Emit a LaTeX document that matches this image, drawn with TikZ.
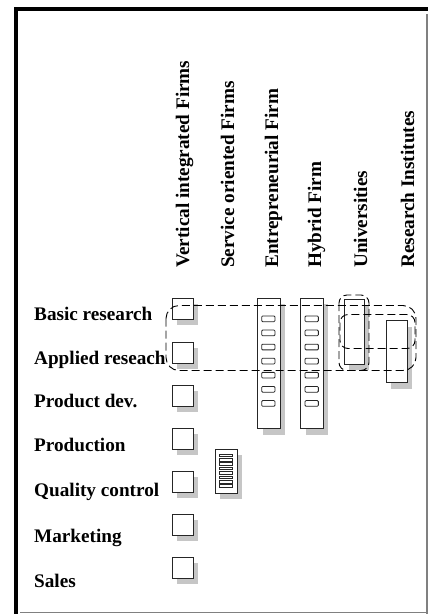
\documentclass[tikz,border=0pt]{standalone}
\usepackage{fontspec}
\setmainfont{Liberation Serif}
\usetikzlibrary{shadows}
\begin{document}
\begin{tikzpicture}[x=1pt,y=-1pt,
  lbl/.style={font=\fontsize{19.2}{20}\selectfont\bfseries, inner sep=0pt, anchor=base west},
  collbl/.style={lbl, rotate=90},
  shad/.style={drop shadow={shadow xshift=5pt, shadow yshift=-6pt, fill=gray!45, opacity=1}},
  sbox/.style={draw=black!85, line width=0.9pt, fill=white, inner sep=0pt, minimum width=21pt, minimum height=21pt, shad},
  colbox/.style={draw=black!85, line width=0.9pt, fill=white, inner sep=0pt, shad},
  cell/.style={draw=black!85, line width=0.8pt, fill=white, inner sep=0pt, rounded corners=1pt, minimum width=13.3pt, minimum height=5.7pt},
  tinycell/.style={draw=black!85, line width=0.7pt, fill=white, inner sep=0pt, minimum width=13pt, minimum height=2.6pt},
  dashbox/.style={draw=black, line width=0.9pt, dash pattern=on 8pt off 4pt}
]
\useasboundingbox (0,0) rectangle (428,614);
% frame
\fill[black] (14,7) rectangle (18,614);
\fill[black] (14,7) rectangle (428,11);
\draw[gray, line width=1.3pt] (427,14) -- (427,614);
\draw[gray, line width=1.3pt] (20,612.5) -- (428,612.5);

% row labels
\node[lbl] (rBasic) at (34,320) {Basic research};
\node[lbl] (rApplied) at (34,364) {Applied reseach};
\node[lbl] (rProd) at (34,407) {Product dev.};
\node[lbl] (rProduction) at (34,451.5) {Production};
\node[lbl] (rQuality) at (34,496.5) {Quality control};
\node[lbl] (rMarketing) at (34,542) {Marketing};
\node[lbl] (rSales) at (34,587) {Sales};

% column labels
\node[collbl] (cVert) at (189,268) {Vertical integrated Firms};
\node[collbl] (cServ) at (234,268) {Service oriented Firms};
\node[collbl] (cEntr) at (278,268) {Entrepreneurial Firm};
\node[collbl] (cHyb) at (321,268) {Hybrid Firm};
\node[collbl] (cUni) at (367,268) {Universities};
\node[collbl] (cRes) at (414,268) {Research Institutes};

% vertical integrated firm boxes
\foreach \i/\yy in {1/308.5,2/352.5,3/395.5,4/438.5,5/481.5,6/524.5,7/567.5}
  \node[sbox] (v\i) at (182.5,\yy) {};

% entrepreneurial firm
\node[colbox, minimum width=22.5pt, minimum height=130.5pt] (entr) at (268.75,363.25) {};
\foreach \i in {0,...,6}
  \node[cell] (e\i) at (268.3,{318.8+14.1*\i}) {};

% hybrid firm
\node[colbox, minimum width=22.6pt, minimum height=130.5pt] (hyb) at (312,363.25) {};
\foreach \i in {0,...,6}
  \node[cell] (h\i) at (311.7,{318.8+14.1*\i}) {};

% universities
\node[colbox, minimum width=20.3pt, minimum height=65pt] (uni) at (354.2,331.5) {};

% research institutes
\node[colbox, minimum width=21.3pt, minimum height=62pt] (res) at (396.7,351.7) {};

% service oriented firm
\node[colbox, minimum width=22pt, minimum height=44pt] (serv) at (226,471) {};
\foreach \i in {0,...,7}
  \node[tinycell] (s\i) at (226.3,{455.2+4.4*\i}) {};

% dashed groupings
\draw[dashbox, rounded corners=13pt] (166,305.5) rectangle (416,370.5);
\draw[dashbox, rounded corners=8pt] (339,295) rectangle (369,370.5);
\draw[dashbox, rounded corners=8pt] (340,314.5) rectangle (415,348.5);
\end{tikzpicture}
\end{document}
